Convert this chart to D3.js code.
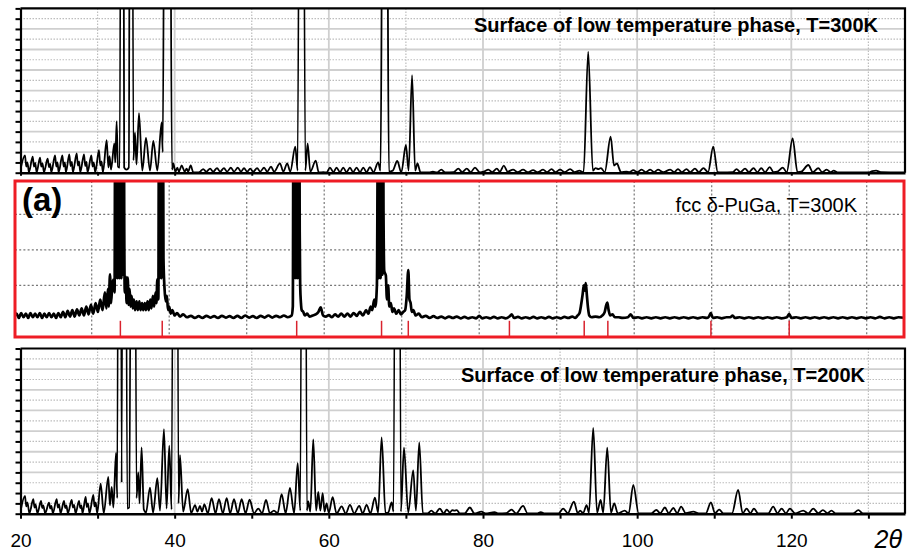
<!DOCTYPE html>
<html>
<head>
<meta charset="utf-8">
<script src="https://cdn.jsdelivr.net/npm/d3@7"></script>
<style>
  body { margin: 0; background: #fff; }
  svg { display: block; }
  text { font-family: Arial, "Liberation Sans", sans-serif; }
</style>
</head>
<body>
<svg id="chart" width="911" height="552"></svg>
<script>
// ---- Diffraction patterns: [2θ (deg), intensity (grid units)] ----
const lowTempPhase300K = [
  [20.0,0.3],[20.58,1.69],[20.75,0.6],[20.9,1.0],[21.1,0.05],
  [21.58,1.56],[21.75,0.6],[21.9,0.95],[22.1,0.05],
  [22.53,1.46],[22.7,0.6],[22.85,0.9],[23.05,0.05],
  [23.52,1.36],[23.7,0.55],[23.85,0.85],[24.0,0.05],
  [24.48,1.69],[24.65,0.6],[24.8,1.0],[24.95,0.05],
  [25.43,1.69],[25.6,0.6],[25.75,1.0],[25.9,0.05],
  [26.33,1.79],[26.5,0.65],[26.65,1.05],[26.8,0.05],
  [27.29,1.88],[27.45,0.7],[27.6,1.1],[27.75,0.05],
  [28.24,1.79],[28.4,0.65],[28.55,1.05],[28.7,0.05],
  [29.19,1.69],[29.35,0.6],[29.5,1.0],[29.7,0.05],
  [30.18,2.2],[30.35,0.7],[30.5,1.1],[30.7,0.05],
  [31.18,3.18],[31.4,0.5],[31.55,1.6],[31.75,0.3],
  [32.17,2.86],[32.3,1.0],[32.47,5.0],[32.65,0.6],[32.88,0.5],
  [33.17,100],[33.45,0.5],[33.75,0.3],[34.05,0.5],[34.33,100],[34.65,1.2],
  [34.85,3.9],[35.05,0.8],[35.37,5.8],[35.8,0.2],[36.28,3.4],[36.8,0.2],
  [37.23,3.1],[37.75,0.2],[38.31,4.9],[38.45,2.0],[39.04,150],[39.65,0.3],
  [39.82,0.9],[40.1,0.1],[40.35,0.5],[40.55,0.1],[40.91,0.7],[41.3,0.1],
  [41.55,0.4],[41.75,0.1],[42.08,0.7],[42.4,0.05],[43.0,0.02],[43.3,0.1],
  [43.7,0.35],[44.1,0.1],[44.6,0.4],[45.0,0.1],[45.5,0.45],[45.9,0.1],
  [46.4,0.45],[46.8,0.1],[47.3,0.5],[47.7,0.1],[48.2,0.5],[48.6,0.1],
  [49.0,0.45],[49.4,0.1],[49.8,0.4],[50.2,0.1],[50.7,0.45],[51.1,0.1],
  [51.6,0.5],[52.0,0.1],[52.5,0.6],[52.9,0.1],[53.66,0.9],[54.1,0.1],
  [54.6,0.9],[55.0,0.1],[55.65,2.53],[55.95,0.2],[56.45,100],[56.95,0.2],
  [57.25,2.86],[57.6,0.1],[58.3,1.17],[58.7,0.02],[59.3,0.05],[59.7,0.02],
  [60.15,0.5],[60.6,0.05],[61.0,0.5],[61.45,0.05],[61.87,0.5],[62.3,0.05],
  [62.74,0.5],[63.15,0.05],[63.6,0.5],[64.05,0.05],[64.47,0.5],[64.9,0.05],
  [65.33,0.55],[65.8,0.05],[66.4,1.0],[66.7,0.2],[67.27,100],[67.8,0.1],
  [68.3,0.2],[68.88,1.14],[69.4,0.02],[70.0,2.7],[70.35,0.2],[70.8,9.5],
  [71.2,0.2],[71.5,0.9],[71.9,0.02],[73.0,0.02],[73.5,0.1],[74.0,0.02],
  [74.6,0.3],[75.1,0.02],[76.2,0.05],[76.8,0.4],[77.3,0.05],[77.9,0.4],
  [78.4,0.05],[78.96,0.5],[79.6,0.02],[80.1,0.1],[80.7,0.3],[81.2,0.05],
  [81.8,0.4],[82.2,0.1],[82.7,0.68],[83.2,0.1],[83.9,0.3],[84.5,0.05],
  [85.2,0.3],[85.8,0.05],[86.5,0.25],[87.1,0.05],[87.8,0.3],[88.3,0.05],
  [88.9,0.35],[89.4,0.05],[90.0,0.3],[90.6,0.05],[91.3,0.35],[91.9,0.05],
  [92.5,0.2],[93.05,0.05],[93.65,11.8],[94.25,0.2],[94.6,0.45],[95.0,0.35],
  [95.3,0.45],[95.8,0.05],[96.56,3.5],[97.0,0.7],[97.4,0.9],[97.6,0.55],
  [97.9,0.05],[98.6,0.1],[99.0,0.05],[99.5,0.25],[100.0,0.05],[100.6,0.3],
  [101.1,0.05],[101.7,0.3],[102.2,0.05],[102.7,0.3],[103.4,0.05],[104.3,0.3],
  [104.8,0.05],[105.3,0.35],[105.8,0.05],[106.4,0.35],[106.9,0.05],[107.5,0.4],
  [108.0,0.05],[108.6,0.45],[109.2,0.05],[109.87,2.53],[110.45,0.05],[111.0,0.02],
  [112.4,0.05],[112.9,0.35],[113.4,0.05],[114.0,0.4],[114.5,0.05],[115.1,0.45],
  [115.6,0.05],[116.1,0.45],[116.6,0.05],[117.2,0.55],[117.7,0.05],[118.2,0.1],
  [118.9,0.5],[119.4,0.05],[120.17,3.34],[120.8,0.05],[121.3,0.1],[122.2,0.75],
  [122.8,0.05],[123.5,0.45],[124.0,0.05],[124.6,0.3],[125.1,0.05],[125.5,0.2],
  [126.0,0.02],[130.0,0.03],[130.5,0.15],[131.0,0.2],[131.6,0.05],[134.75,0.02]
];

const fccPuGa300K = [
  [20.0,0.1],[20.3,0.2],[20.6,0.08],[20.9,0.22],[21.2,0.1],[21.5,0.2],[21.8,0.08],
  [22.1,0.22],[22.4,0.1],[22.7,0.2],[23.0,0.1],[23.3,0.22],[23.6,0.08],[23.9,0.2],
  [24.2,0.1],[24.5,0.22],[24.8,0.1],[25.1,0.2],[25.4,0.08],[25.7,0.22],[26.0,0.1],
  [26.3,0.25],[26.6,0.1],[26.9,0.28],[27.2,0.12],[27.5,0.3],[27.8,0.12],[28.1,0.32],
  [28.4,0.15],[28.7,0.35],[29.0,0.15],[29.3,0.4],[29.6,0.18],[29.9,0.45],[30.2,0.2],
  [30.5,0.5],[30.8,0.25],[31.1,0.6],[31.4,0.3],[31.7,0.8],[31.9,0.35],[32.1,0.9],
  [32.2,0.4],[32.36,1.31],[32.5,0.5],[32.65,1.0],[32.8,1.16],[32.95,0.8],
  [33.05,8],[33.11,1.2],[33.17,8],[33.23,1.5],[33.29,8],[33.35,1.2],[33.41,8],[33.47,1.5],
  [33.53,8],[33.59,1.2],[33.65,8],[33.71,1.5],[33.77,8],[33.83,1.2],[33.89,8],[33.95,1.5],
  [34.01,8],[34.07,1.3],[34.13,8],
  [34.2,2.58],[34.27,0.8],[34.4,1.24],[34.5,0.5],[34.65,1.22],[34.75,0.45],[34.9,0.9],[35.0,0.4],
  [35.15,0.7],[35.3,0.35],[35.45,0.6],[35.6,0.3],[35.8,0.55],[35.95,0.3],[36.15,0.55],
  [36.3,0.3],[36.5,0.5],[36.65,0.3],[36.85,0.5],[37.0,0.3],[37.2,0.55],[37.35,0.3],
  [37.55,0.6],[37.7,0.35],[37.9,0.7],[38.05,0.4],[38.25,0.8],[38.35,0.5],[38.47,1.17],
  [38.6,0.6],[38.7,8],[38.76,1.2],[38.82,8],[38.88,1.5],[38.94,8],[39.0,1.2],[39.06,8],
  [39.12,1.5],[39.18,8],[39.26,1.77],[39.4,0.9],
  [39.55,0.55],[39.7,0.7],[39.85,0.3],[40.0,0.4],[40.2,0.2],[40.4,0.3],[40.7,0.15],
  [41.0,0.22],[41.4,0.12],[41.8,0.18],[42.3,0.1],[42.8,0.14],[43.3,0.08],[43.8,0.13],
  [44.3,0.08],[44.8,0.14],[45.3,0.09],[45.8,0.13],[46.3,0.08],[46.8,0.14],[47.3,0.09],
  [47.8,0.13],[48.3,0.08],[48.8,0.14],[49.3,0.08],[49.8,0.15],[50.3,0.09],[50.8,0.13],
  [51.3,0.08],[51.8,0.14],[52.3,0.09],[52.8,0.15],[53.3,0.09],[53.8,0.14],[54.3,0.1],
  [54.8,0.15],[55.3,0.1],[55.8,0.15],[55.95,0.4],
  [56.05,8],[56.11,1.2],[56.17,8],[56.23,1.5],[56.29,8],[56.35,1.2],[56.41,8],[56.47,1.5],
  [56.53,8],[56.59,1.2],[56.65,8],[56.71,1.5],[56.77,8],[56.84,2.5],[56.9,1.0],[57.0,0.5],
  [57.1,0.3],[57.3,0.25],[57.5,0.15],
  [57.8,0.2],[58.1,0.12],[58.5,0.15],[58.9,0.18],[59.25,0.25],[59.55,0.38],[59.85,0.15],
  [60.2,0.12],[60.6,0.16],[61.0,0.1],[61.4,0.18],[61.8,0.12],[62.2,0.2],[62.6,0.12],
  [63.0,0.2],[63.4,0.12],[63.8,0.22],[64.2,0.14],[64.6,0.25],[65.0,0.15],[65.4,0.3],
  [65.7,0.2],[66.0,0.4],[66.2,0.3],[66.45,0.6],[66.6,0.4],[66.8,1.0],
  [66.98,8],[67.04,1.2],[67.1,8],[67.16,1.5],[67.22,8],[67.28,1.2],[67.34,8],[67.4,1.5],
  [67.46,8],[67.52,1.3],[67.58,8],[67.65,3.1],[67.75,1.4],[67.95,1.28],[68.1,0.6],
  [68.25,1.0],[68.4,0.4],[68.6,0.5],[68.8,0.25],[69.0,0.35],[69.3,0.2],[69.6,0.3],
  [69.9,0.18],[70.2,0.25],[70.45,0.3],[70.65,0.7],[70.85,1.43],[71.0,0.6],[71.15,0.5],
  [71.3,0.25],[71.5,0.3],[71.8,0.15],[72.2,0.2],[72.6,0.1],[73.1,0.14],[73.6,0.08],
  [74.1,0.13],[74.6,0.08],[75.1,0.12],[75.6,0.07],[76.1,0.12],[76.6,0.08],[77.1,0.12],
  [77.6,0.07],[78.1,0.11],[78.6,0.07],[79.1,0.1],[79.6,0.07],[80.0,0.14],[80.4,0.07],
  [80.9,0.1],[81.4,0.07],[81.9,0.11],[82.4,0.07],[82.9,0.1],[83.4,0.07],[83.9,0.12],
  [84.2,0.18],[84.5,0.08],[85.0,0.11],[85.5,0.07],[86.0,0.1],[86.5,0.07],[87.0,0.11],
  [87.5,0.07],[88.0,0.1],[88.5,0.07],[89.0,0.11],[89.5,0.07],[90.0,0.1],[90.5,0.07],
  [91.0,0.11],[91.5,0.08],[92.0,0.12],[92.4,0.08],[92.7,0.15],[92.95,0.22],[93.15,0.45],
  [93.35,0.75],[93.5,1.0],[93.62,0.85],[93.75,1.06],[93.9,0.7],[94.05,0.35],[94.2,0.15],
  [94.5,0.1],[95.0,0.12],[95.5,0.1],[95.9,0.15],[96.2,0.25],[96.4,0.45],[96.53,0.51],
  [96.7,0.3],[96.9,0.15],[97.2,0.18],[97.5,0.1],[98.0,0.1],[98.5,0.08],[99.2,0.1],
  [99.55,0.18],[99.9,0.08],[100.5,0.1],[101.0,0.07],[101.6,0.1],[102.2,0.07],[102.8,0.1],
  [103.4,0.07],[104.0,0.1],[104.6,0.07],[105.2,0.1],[105.8,0.07],[106.4,0.1],[107.0,0.07],
  [107.6,0.1],[108.2,0.07],[108.8,0.1],[109.4,0.08],[109.65,0.12],[109.87,0.22],[110.15,0.08],
  [110.7,0.1],[111.3,0.07],[111.9,0.1],[112.4,0.1],[112.7,0.15],[113.0,0.08],[113.6,0.1],
  [114.2,0.07],[114.8,0.1],[115.4,0.07],[116.0,0.1],[116.6,0.07],[117.2,0.1],[117.8,0.07],
  [118.4,0.1],[119.0,0.07],[119.7,0.1],[120.0,0.19],[120.3,0.08],[120.9,0.1],[121.5,0.07],
  [122.1,0.1],[122.7,0.07],[123.3,0.1],[123.9,0.07],[124.5,0.1],[125.1,0.07],[125.7,0.1],
  [126.3,0.07],[126.9,0.1],[127.5,0.07],[128.1,0.1],[128.7,0.07],[129.3,0.1],[129.9,0.07],
  [130.5,0.1],[131.1,0.07],[131.7,0.11],[132.3,0.07],[132.9,0.1],[133.5,0.07],[134.1,0.1],
  [135.0,0.08]
];

const lowTempPhase200K = [
  [20.0,0.2],[20.58,1.72],[20.75,0.7],[20.9,1.1],[21.15,0.05],
  [21.66,1.4],[21.82,0.6],[21.95,0.9],[22.2,0.05],
  [22.66,1.23],[22.82,0.55],[22.95,0.8],[23.2,0.05],
  [23.7,1.07],[23.86,0.5],[24.0,0.75],[24.2,0.05],
  [24.69,1.4],[24.85,0.6],[25.0,0.9],[25.2,0.05],
  [25.64,1.23],[25.8,0.55],[25.95,0.8],[26.15,0.05],
  [26.64,1.33],[26.8,0.6],[26.95,0.85],[27.15,0.05],
  [27.59,1.23],[27.75,0.55],[27.9,0.8],[28.05,0.05],
  [28.45,1.62],[28.6,0.65],[28.75,1.0],[28.95,0.05],
  [29.45,1.82],[29.6,0.7],[29.75,1.1],[29.95,0.05],
  [30.4,2.92],[30.8,0.05],[31.39,3.57],[31.6,0.8],[31.83,2.6],[32.05,0.6],
  [32.39,5.88],[32.55,1.5],[32.85,100],[33.12,3],[33.45,100],[33.85,0.5],
  [34.1,0.6],[34.63,100],[35.05,1.5],[35.28,4.0],[35.45,1.0],[35.71,6.43],
  [36.0,0.4],[36.28,0.1],[36.8,2.53],[37.2,0.1],[37.75,3.44],[38.1,0.3],
  [38.61,8.2],[38.95,0.5],[39.3,6.6],[39.6,0.4],[40.1,120],[40.5,1.0],
  [40.69,5.68],[41.1,0.2],[41.69,2.37],[42.15,0.05],[42.64,0.84],[42.95,0.2],
  [43.29,0.75],[43.55,0.2],[43.85,0.9],[44.3,0.05],[44.8,1.5],[45.3,0.05],
  [45.75,1.4],[46.25,0.05],[46.75,1.5],[47.2,0.05],[47.7,1.4],[48.2,0.05],
  [48.69,1.4],[49.2,0.05],[49.72,1.35],[50.3,0.05],[50.85,0.5],[51.35,0.05],
  [51.85,1.33],[52.35,0.05],[52.88,0.3],[53.35,0.05],[53.88,1.9],[54.4,0.05],
  [54.96,2.5],[55.5,0.05],[55.96,4.9],[56.3,0.3],[56.75,120],[57.15,0.3],
  [57.33,1.2],[57.6,0.2],[57.98,7.2],[58.35,0.3],[58.63,2.1],[58.9,0.3],
  [59.2,2.0],[59.45,0.2],[59.7,1.0],[60.0,0.1],[60.5,1.6],[61.0,0.02],
  [61.66,0.7],[62.2,0.02],[62.74,0.85],[63.3,0.02],[63.95,0.75],[64.4,0.02],
  [64.9,0.85],[65.4,0.02],[65.98,1.56],[66.4,0.1],[66.85,7.4],[67.35,0.05],
  [67.7,0.1],[68.15,1.1],[68.4,0.2],[68.9,120],[69.35,0.2],[69.75,6.4],
  [70.3,0.1],[70.95,4.2],[71.3,0.3],[71.73,6.9],[72.2,0.02],[72.8,0.02],
  [73.3,0.3],[73.8,0.02],[74.4,0.5],[74.9,0.02],[75.3,0.4],[75.7,0.1],
  [76.0,0.35],[76.3,0.3],[76.6,0.35],[77.0,0.02],[77.6,0.02],[78.3,0.6],
  [78.9,0.02],[79.8,0.2],[80.3,0.02],[81.5,0.15],[82.0,0.02],[83.0,0.05],
  [83.7,0.4],[84.3,0.02],[85.2,0.75],[85.8,0.02],[87.0,0.02],[87.5,0.15],
  [88.0,0.02],[89.8,0.02],[90.4,0.5],[91.0,0.05],[91.8,1.17],[92.3,0.05],
  [92.6,0.3],[93.0,0.05],[93.44,0.84],[93.75,0.1],[94.3,8.3],[94.8,0.1],
  [95.26,1.33],[95.6,0.1],[96.12,6.4],[96.6,0.1],[97.03,1.0],[97.5,0.02],
  [98.4,0.3],[98.9,0.02],[99.5,2.8],[100.2,0.02],[101.8,0.02],[102.5,0.36],
  [103.0,0.05],[103.6,0.6],[104.1,0.05],[104.7,0.55],[105.2,0.05],[105.7,0.68],
  [106.3,0.05],[107.3,0.2],[108.0,0.02],[108.9,0.02],[109.57,1.1],[110.1,0.05],
  [110.65,0.4],[111.2,0.02],[112.3,0.02],[113.1,2.3],[113.7,0.05],[114.2,0.5],
  [114.7,0.05],[115.15,0.5],[115.7,0.02],[117.0,0.02],[117.65,0.68],[118.2,0.05],
  [118.74,0.5],[119.3,0.05],[119.82,0.5],[120.5,0.02],[121.55,0.3],[122.2,0.02],
  [122.85,0.5],[123.5,0.05],[124.1,0.35],[124.7,0.05],[125.2,0.3],[125.8,0.02],
  [128.0,0.02],[128.7,0.35],[129.3,0.02],[134.75,0.02]
];

// Reference reflection positions of fcc δ-PuGa (2θ)
const fccReflections = [33.7, 39.1, 56.45, 67.4, 70.85, 83.9, 93.55, 96.6, 109.9, 120.0];

// Axis ticks and labels
const xTicks = [20, 30, 40, 50, 60, 70, 80, 90, 100, 110, 120, 130];
const xTickLabels = [20, 40, 60, 80, 100, 120];
const yTicks = d3.range(0, 17);
const midGridX = [30, 40, 50, 60, 70, 80, 90, 100, 110, 120, 130];
const midGridY = [1, 2, 3];

const titleTop = "Surface of low temperature phase, T=300K";
const titleMid = "fcc δ-PuGa, T=300K";
const titleBottom = "Surface of low temperature phase, T=200K";
const panelTag = "(a)";
const axisTitle = "2θ";

// ---- Drawing ----
const svg = d3.select("#chart");

const x = d3.scaleLinear().domain([20, 134.75]).range([20.5, 905]);
const xMid = d3.scaleLinear().domain([20, 135]).range([14.2, 905.45]);

const line = (xs, ys) => d3.line()
  .x(d => xs(d[0])).y(d => ys(d[1]))
  .curve(d3.curveMonotoneX);

function patternPanel(id, data, yTop, yBottom, title, titleX, titleY, withLabels) {
  const y = d3.scaleLinear().domain([0, 16]).range([yBottom, yTop]);
  const g = svg.append("g").attr("class", id);
  const [x0, x1] = x.range();

  g.append("clipPath").attr("id", "clip-" + id)
    .append("rect").attr("x", x0).attr("y", yTop).attr("width", x1 - x0).attr("height", yBottom - yTop);

  // horizontal grid: solid on even units, dotted on odd units
  g.append("g").selectAll("line").data(d3.range(1, 16)).join("line")
    .attr("x1", x0).attr("x2", x1)
    .attr("y1", d => y(d)).attr("y2", d => y(d))
    .attr("stroke", d => d % 2 === 0 ? "#cfcfcf" : "#bdbdbd")
    .attr("stroke-width", d => d % 2 === 0 ? 1.8 : 1.2)
    .attr("stroke-dasharray", d => d % 2 === 0 ? null : "1.5,1.5");

  // vertical grid: solid at multiples of 20, dotted between
  g.append("g").selectAll("line").data(xTicks.filter(v => v > 20)).join("line")
    .attr("x1", d => x(d)).attr("x2", d => x(d))
    .attr("y1", yTop).attr("y2", yBottom)
    .attr("stroke", d => d % 20 === 0 ? "#cfcfcf" : "#bdbdbd")
    .attr("stroke-width", d => d % 20 === 0 ? 1.8 : 1.2)
    .attr("stroke-dasharray", d => d % 20 === 0 ? null : "1.5,1.5");

  g.append("path").datum(data)
    .attr("clip-path", `url(#clip-${id})`)
    .attr("d", line(x, y))
    .attr("fill", "none").attr("stroke", "#000").attr("stroke-width", 1.8)
    .attr("stroke-linejoin", "round");

  // frame: top and right edges
  g.append("path")
    .attr("d", `M${x0},${yTop}H${x1}V${yBottom}`)
    .attr("fill", "none").attr("stroke", "#000").attr("stroke-width", 2.2);

  const left = g.append("g").attr("transform", `translate(${x0},0)`)
    .call(d3.axisLeft(y).tickValues(yTicks).tickSize(5).tickSizeOuter(0).tickFormat(""));
  left.select(".domain").attr("stroke-width", 2.2);
  left.selectAll(".tick line").attr("stroke-width", 2);

  const bottom = g.append("g").attr("transform", `translate(0,${yBottom})`)
    .call(d3.axisBottom(x).tickValues(xTicks).tickSize(withLabels ? 5 : 3).tickSizeOuter(0)
      .tickPadding(14.5)
      .tickFormat(d => withLabels && xTickLabels.includes(d) ? d : ""));
  bottom.select(".domain").attr("stroke-width", 2.4);
  bottom.selectAll(".tick line").attr("stroke-width", 2);
  bottom.selectAll(".tick text")
    .attr("font-family", "Arial, 'Liberation Sans', sans-serif")
    .attr("font-size", 19).attr("fill", "#000");

  g.append("text").attr("x", titleX).attr("y", titleY)
    .attr("text-anchor", "end").attr("font-weight", "bold").attr("font-size", 20)
    .text(title);
}

patternPanel("top", lowTempPhase300K, 8.4, 172.7, titleTop, 878, 31.5, false);
patternPanel("bottom", lowTempPhase200K, 348.5, 513.7, titleBottom, 865, 381.5, true);

// ---- Middle panel: measured fcc δ-PuGa pattern ----
const yMid = d3.scaleLinear().domain([0, 4]).range([320.8, 178.8]);
const mid = svg.append("g").attr("class", "middle");
const frame = { x0: 15, x1: 904, y0: 181, y1: 337 };

mid.append("clipPath").attr("id", "clip-mid")
  .append("rect").attr("x", frame.x0).attr("y", frame.y0)
  .attr("width", frame.x1 - frame.x0).attr("height", frame.y1 - frame.y0);

mid.append("g").selectAll("line").data(midGridX).join("line")
  .attr("x1", d => xMid(d)).attr("x2", d => xMid(d))
  .attr("y1", frame.y0).attr("y2", frame.y1)
  .attr("stroke", "#777").attr("stroke-width", 1.2).attr("stroke-dasharray", "2,2.2");

mid.append("g").selectAll("line").data(midGridY).join("line")
  .attr("x1", frame.x0).attr("x2", frame.x1)
  .attr("y1", d => yMid(d)).attr("y2", d => yMid(d))
  .attr("stroke", "#777").attr("stroke-width", 1.2).attr("stroke-dasharray", "2,2.2");

mid.append("g").selectAll("line").data(fccReflections).join("line")
  .attr("x1", d => xMid(d)).attr("x2", d => xMid(d))
  .attr("y1", yMid(0)).attr("y2", frame.y1)
  .attr("stroke", "#d9232e").attr("stroke-width", 1.5);

mid.append("path").datum(fccPuGa300K)
  .attr("clip-path", "url(#clip-mid)")
  .attr("d", line(xMid, yMid))
  .attr("fill", "none").attr("stroke", "#000").attr("stroke-width", 2.7)
  .attr("stroke-linejoin", "round");

mid.append("rect")
  .attr("x", frame.x0).attr("y", frame.y0)
  .attr("width", frame.x1 - frame.x0).attr("height", frame.y1 - frame.y0)
  .attr("fill", "none").attr("stroke", "#ee1c25").attr("stroke-width", 3);

mid.append("text").attr("x", 22).attr("y", 211)
  .attr("font-weight", "bold").attr("font-size", 33).text(panelTag);

mid.append("text").attr("x", 857).attr("y", 211.5)
  .attr("text-anchor", "end").attr("font-size", 20).text(titleMid);

// axis title
svg.append("text").attr("x", 902).attr("y", 548)
  .attr("text-anchor", "end").attr("font-style", "italic").attr("font-size", 25)
  .text(axisTitle);
</script>
</body>
</html>
